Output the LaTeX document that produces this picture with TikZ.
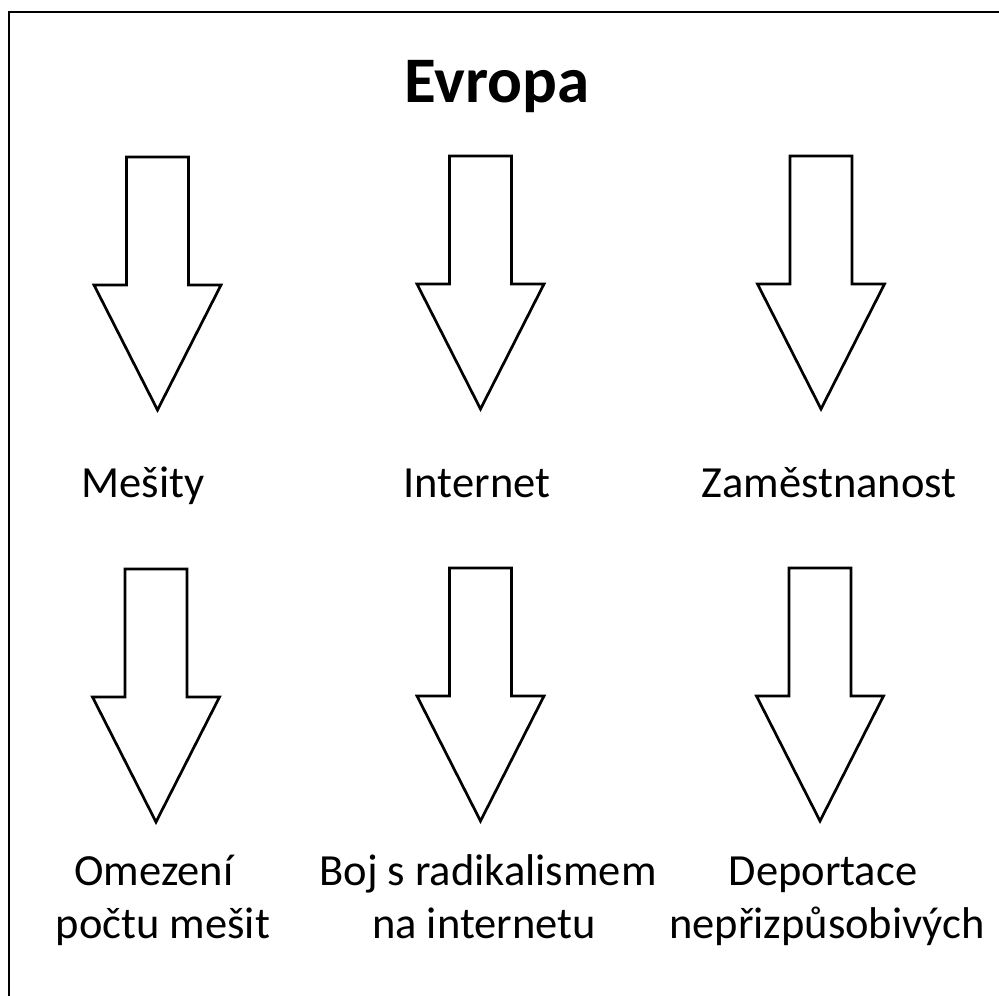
\documentclass[tikz,border=0pt]{standalone}
\usepackage{fontspec}
\setmainfont{Carlito}
\usetikzlibrary{positioning}

\begin{document}
\begin{tikzpicture}[x=1pt, y=-1pt]
	\tikzstyle{Frame}	= [line width=2.8pt, line cap=rect]
	\tikzstyle{Block}	= [line width=2.7pt, line join=miter, fill=white]
	\tikzstyle{Title}	= [anchor=base, inner sep=0pt, font=\fontsize{65}{78}\selectfont\bfseries]
	\tikzstyle{Label}	= [anchor=base, inner sep=0pt, font=\fontsize{44.5}{53}\selectfont]
	\tikzset{blockarrow/.pic={
		\draw [Block] (-31,0) -- (31,0) -- (31,128) -- (63.5,128) -- (0,253)
			-- (-63.5,128) -- (-31,128) -- cycle;
	}}

	\useasboundingbox (0,0) rectangle (999,996);
	\draw [Frame] (9,996) -- (9,12) -- (999,12);

	\node (title) at (497,102) [Title] {Evropa};

	% upper row
	\pic (a1) at (157.5,157) {blockarrow};
	\pic (a2) at (480.5,156) {blockarrow};
	\pic (a3) at (821,156) {blockarrow};

	\node (mesity) at (143,497) [Label] {Mešity};
	\node (internet) at (477,497) [Label] {Internet};
	\node (zamest) at (829,497) [Label] {Zaměstnanost};

	% lower row
	\pic (b1) at (156,569) {blockarrow};
	\pic (b2) at (480.5,568) {blockarrow};
	\pic (b3) at (820,568) {blockarrow};

	\node (omez) at (154,885) [Label] {Omezení};
	\node (omez2) at (163,938) [Label] {počtu mešit};
	\node (boj) at (488,885) [Label] {Boj s radikalismem};
	\node (boj2) at (484,938) [Label] {na internetu};
	\node (depo) at (823,885) [Label] {Deportace};
	\node (depo2) at (827,938) [Label] {nepřizpůsobivých};
\end{tikzpicture}
\end{document}
